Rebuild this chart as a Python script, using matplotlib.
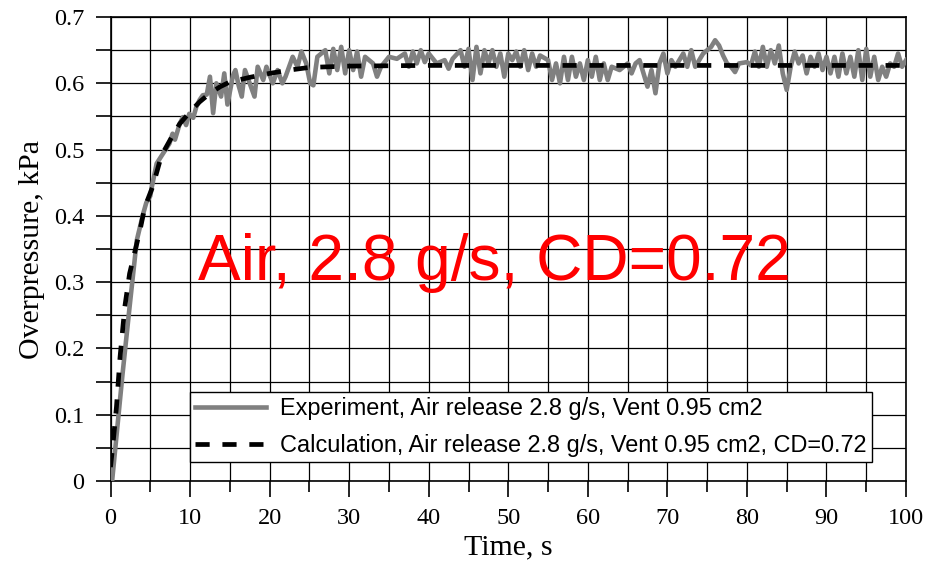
import numpy as np
import matplotlib
matplotlib.use('Agg')
import matplotlib.pyplot as plt
from matplotlib.ticker import MultipleLocator

# experiment
exp_time = [0, 0.2, 1.5, 2.4, 3.3, 4.1, 4.5, 5.0, 5.2, 5.8, 6.6, 7.4, 7.8, 8.1, 8.7,
            9.1, 9.5, 9.9, 10.4, 10.8, 11.2, 11.6, 12.1, 12.5, 12.9, 13.3, 13.9,
            14.3, 14.7, 15.4, 15.7, 16.1, 16.5, 16.9, 17.5, 18.1, 18.5, 19.2, 19.6,
            20.4, 21.0, 21.6, 22.0, 22.9, 23.5, 24.0, 24.6, 25.1, 25.5, 26, 27,
            27.5, 28, 28.5, 29, 29.5, 30, 30.5, 31, 31.5, 32, 33, 33.5, 34, 35, 36,
            37, 37.5, 38, 38.5, 39, 39.5, 40, 41, 42, 42.5, 43, 44, 44.5, 45, 45.5,
            46, 46.5, 47, 47.5, 48, 48.5, 49, 49.5, 50, 50.5, 51, 51.5, 52, 52.5,
            53, 53.5, 54, 55, 55.5, 56, 56.5, 57, 57.5, 58, 58.5, 59, 59.5, 60,
            60.5, 61, 61.5, 62, 62.5, 63, 64, 65, 65.5, 66, 66.5, 67, 67.5, 68,
            68.5, 69, 69.5, 70, 70.5, 71, 72, 72.5, 73, 73.5, 74, 74.5, 75, 75.5,
            76, 76.5, 77, 77.5, 78, 78.5, 79, 80, 80.5, 81, 81.5, 82, 82.5, 83,
            83.5, 84, 84.5, 85, 85.5, 86, 86.5, 87, 87.5, 88, 88.5, 89, 89.5, 90,
            90.5, 91, 91.5, 92, 92.5, 93, 93.5, 94, 94.5, 95, 95.5, 96, 96.5, 97,
            97.5, 98, 98.5, 99, 99.5, 100]
exp_p = [-0.012, 0.0, 0.16, 0.263, 0.363, 0.403, 0.42, 0.43, 0.444, 0.479, 0.494,
         0.509, 0.524, 0.515, 0.539, 0.549, 0.537, 0.554, 0.548, 0.565, 0.575,
         0.582, 0.583, 0.61, 0.555, 0.60, 0.58, 0.615, 0.568, 0.612, 0.62, 0.597,
         0.58, 0.62, 0.60, 0.58, 0.625, 0.605, 0.625, 0.60, 0.62, 0.60, 0.61,
         0.64, 0.625, 0.648, 0.63, 0.60, 0.597, 0.64, 0.65, 0.615, 0.652, 0.62,
         0.655, 0.615, 0.65, 0.62, 0.648, 0.61, 0.64, 0.63, 0.61, 0.625, 0.64,
         0.637, 0.645, 0.625, 0.648, 0.63, 0.65, 0.632, 0.645, 0.63, 0.635, 0.622,
         0.637, 0.65, 0.625, 0.652, 0.605, 0.655, 0.615, 0.65, 0.63, 0.65, 0.625,
         0.645, 0.61, 0.645, 0.635, 0.648, 0.625, 0.65, 0.62, 0.645, 0.625, 0.642,
         0.635, 0.605, 0.63, 0.60, 0.64, 0.605, 0.64, 0.61, 0.63, 0.605, 0.635,
         0.61, 0.64, 0.605, 0.63, 0.605, 0.625, 0.62, 0.63, 0.615, 0.63, 0.635,
         0.615, 0.595, 0.62, 0.585, 0.63, 0.645, 0.615, 0.635, 0.625, 0.645, 0.625,
         0.65, 0.625, 0.635, 0.645, 0.65, 0.655, 0.665, 0.657, 0.642, 0.63, 0.625,
         0.617, 0.63, 0.632, 0.627, 0.648, 0.625, 0.655, 0.625, 0.65, 0.63, 0.657,
         0.615, 0.59, 0.625, 0.648, 0.63, 0.642, 0.615, 0.64, 0.625, 0.645, 0.62,
         0.64, 0.615, 0.64, 0.61, 0.645, 0.615, 0.64, 0.61, 0.65, 0.605, 0.652,
         0.61, 0.64, 0.605, 0.625, 0.61, 0.63, 0.625, 0.645, 0.625, 0.635]

# calculation, CD = 0.72
calc_time = [0, 0.35, 0.75, 1.2, 1.8, 2.4, 3.0, 3.7, 4.3, 5.3, 6.4, 7.7, 8.7, 10,
             11.2, 12.5, 13.8, 15, 17.5, 20, 22.5, 25, 30, 40, 50, 60, 70, 80, 90, 100]
calc_p = [0.021, 0.061, 0.112, 0.187, 0.263, 0.313, 0.343, 0.378, 0.413, 0.444,
          0.491, 0.519, 0.539, 0.557, 0.572, 0.585, 0.595, 0.602, 0.609, 0.615,
          0.62, 0.624, 0.626, 0.627, 0.627, 0.627, 0.627, 0.627, 0.627, 0.627]

exp_label = 'Experiment, Air release 2.8 g/s, Vent 0.95 cm2'
calc_label = 'Calculation, Air release 2.8 g/s, Vent 0.95 cm2, CD=0.72'
note = 'Air, 2.8 g/s, CD=0.72'

serif = ['Liberation Serif', 'DejaVu Serif']
sans = ['Liberation Sans', 'DejaVu Sans']
plt.rcParams['font.family'] = serif

fig = plt.figure(figsize=(9.31, 5.70), dpi=100)
ax = fig.add_axes([0.1187, 0.1561, 0.8545, 0.8140])

ax.plot(exp_time, exp_p, color='#808080', lw=3.3, solid_joinstyle='round',
        label=exp_label, zorder=3)
ax.plot(calc_time, calc_p, color='black', lw=3.4, linestyle=(0, (3.0, 2.7)),
        label=calc_label, zorder=4)

ax.set_xlim(0, 100)
ax.set_ylim(0, 0.7)
ax.xaxis.set_major_locator(MultipleLocator(10))
ax.xaxis.set_minor_locator(MultipleLocator(5))
ax.yaxis.set_major_locator(MultipleLocator(0.1))
ax.yaxis.set_minor_locator(MultipleLocator(0.05))
ax.yaxis.set_major_formatter(plt.FuncFormatter(lambda v, p: '0' if abs(v) < 1e-9 else '%g' % v))
ax.grid(True, which='both', color='black', lw=0.9, zorder=1)
ax.set_axisbelow(True)

ax.tick_params(axis='x', which='major', direction='out', length=11.5, width=1.2,
               labelsize=17.5, pad=8)
ax.tick_params(axis='x', which='minor', direction='out', length=8, width=1.2)
ax.tick_params(axis='y', which='both', direction='out', length=11, width=1.2,
               labelsize=17.5, pad=8)
for s in ax.spines.values():
    s.set_linewidth(1.2)

ax.set_xlabel('Time, s', fontsize=21.5, labelpad=4)
ax.set_ylabel('Overpressure, kPa', fontsize=21.5, labelpad=6)

ax.text(11.0, 0.304, note, color='red', fontsize=46.1, family=sans,
        va='baseline', ha='left', zorder=5)

leg = ax.legend(loc='lower left', bbox_to_anchor=(0.0999, 0.0409), borderaxespad=0,
                prop={'family': sans, 'size': 16.9}, handlelength=3.0,
                handletextpad=0.62, borderpad=0.22, labelspacing=0.58,
                fancybox=False, framealpha=1, edgecolor='black')
leg.get_frame().set_linewidth(1.0)
leg.set_zorder(6)

fig.savefig('out.png', dpi=100)
